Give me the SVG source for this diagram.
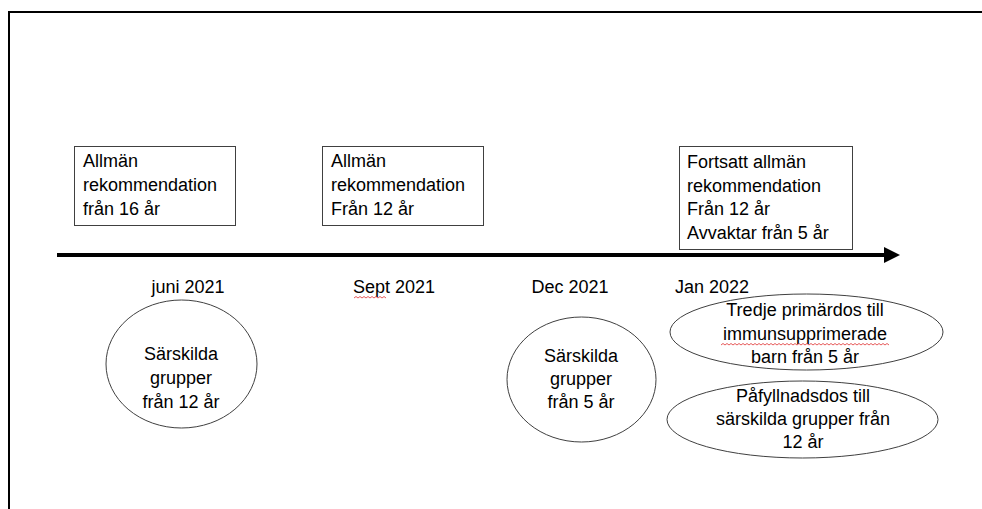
<svg xmlns="http://www.w3.org/2000/svg" width="982" height="509" viewBox="0 0 982 509">
<defs>
<style>
.t{font-family:"Liberation Sans",Arial,sans-serif;font-size:18px;fill:#000}
.c{text-anchor:middle}
.box{fill:#fff;stroke:#404040;stroke-width:1}
.ell{fill:#fff;stroke:#404040;stroke-width:1}
.wave{fill:none;stroke:#e03030;stroke-width:0.8}
</style>
<marker id="ah" markerWidth="4" markerHeight="4" refX="0.5" refY="2" orient="auto" markerUnits="strokeWidth" viewBox="0 0 4 4">
<path d="M0,0 L4,2 L0,4 Z" fill="#000"/>
</marker>
</defs>
<rect width="982" height="509" fill="#fff"/>
<path d="M9,509 V12 H982" fill="none" stroke="#000" stroke-width="2"/>
<g id="connectors">
<line x1="57" y1="255" x2="886" y2="255" stroke="#000" stroke-width="4" marker-end="url(#ah)"/>
</g>
<g id="box1">
<rect class="box" x="74.5" y="146.5" width="161" height="79"/>
<text class="t" x="83" y="167">Allmän</text>
<text class="t" x="83" y="191">rekommendation</text>
<text class="t" x="83" y="215">från 16 år</text>
</g>
<g id="box2">
<rect class="box" x="322.5" y="146.5" width="161" height="79"/>
<text class="t" x="331" y="167">Allmän</text>
<text class="t" x="331" y="191">rekommendation</text>
<text class="t" x="331" y="215">Från 12 år</text>
</g>
<g id="box3">
<rect class="box" x="679.5" y="146.5" width="173" height="103"/>
<text class="t" x="687" y="168">Fortsatt allmän</text>
<text class="t" x="687" y="192">rekommendation</text>
<text class="t" x="687" y="215">Från 12 år</text>
<text class="t" x="687" y="239">Avvaktar från 5 år</text>
</g>
<g id="date-juni">
<text class="t c" x="188" y="293">juni 2021</text>
</g>
<g id="date-sept">
<text class="t c" x="394" y="293">Sept 2021</text>
<path class="wave" d="M354,298 l2,-1.5 l2,1.5 l2,-1.5 l2,1.5 l2,-1.5 l2,1.5 l2,-1.5 l2,1.5 l2,-1.5 l2,1.5 l2,-1.5 l2,1.5 l2,-1.5 l2,1.5 l2,-1.5 l2,1.5"/>
</g>
<g id="date-dec">
<text class="t c" x="570" y="293">Dec 2021</text>
</g>
<g id="date-jan">
<text class="t" x="675" y="293">Jan 2022</text>
</g>
<g id="ellipse1">
<ellipse class="ell" cx="181.5" cy="364" rx="75.5" ry="64"/>
<text class="t c" x="181" y="360">Särskilda</text>
<text class="t c" x="181" y="384">grupper</text>
<text class="t c" x="181" y="408">från 12 år</text>
</g>
<g id="ellipse2">
<ellipse class="ell" cx="581.5" cy="379.5" rx="74.5" ry="62.5"/>
<text class="t c" x="581" y="362">Särskilda</text>
<text class="t c" x="581" y="385">grupper</text>
<text class="t c" x="581" y="408">från 5 år</text>
</g>
<g id="ellipse3">
<ellipse class="ell" cx="806.5" cy="332" rx="136.5" ry="38"/>
<text class="t c" x="805" y="316">Tredje primärdos till</text>
<text class="t c" x="805" y="340">immunsupprimerade</text>
<text class="t c" x="805" y="363">barn från 5 år</text>
<path class="wave" d="M721,345 l2,-1.5 l2,1.5 l2,-1.5 l2,1.5 l2,-1.5 l2,1.5 l2,-1.5 l2,1.5 l2,-1.5 l2,1.5 l2,-1.5 l2,1.5 l2,-1.5 l2,1.5 l2,-1.5 l2,1.5 l2,-1.5 l2,1.5 l2,-1.5 l2,1.5 l2,-1.5 l2,1.5 l2,-1.5 l2,1.5 l2,-1.5 l2,1.5 l2,-1.5 l2,1.5 l2,-1.5 l2,1.5 l2,-1.5 l2,1.5 l2,-1.5 l2,1.5 l2,-1.5 l2,1.5 l2,-1.5 l2,1.5 l2,-1.5 l2,1.5 l2,-1.5 l2,1.5 l2,-1.5 l2,1.5 l2,-1.5 l2,1.5 l2,-1.5 l2,1.5 l2,-1.5 l2,1.5 l2,-1.5 l2,1.5 l2,-1.5 l2,1.5 l2,-1.5 l2,1.5 l2,-1.5 l2,1.5 l2,-1.5 l2,1.5 l2,-1.5 l2,1.5 l2,-1.5 l2,1.5 l2,-1.5 l2,1.5 l2,-1.5 l2,1.5 l2,-1.5 l2,1.5 l2,-1.5 l2,1.5 l2,-1.5 l2,1.5 l2,-1.5 l2,1.5 l2,-1.5 l2,1.5 l2,-1.5 l2,1.5 l2,-1.5 l2,1.5 l2,-1.5 l2,1.5"/>
</g>
<g id="ellipse4">
<ellipse class="ell" cx="802.5" cy="419.5" rx="135.5" ry="38.5"/>
<text class="t c" x="803" y="402">Påfyllnadsdos till</text>
<text class="t c" x="803" y="425">särskilda grupper från</text>
<text class="t c" x="803" y="448">12 år</text>
</g>
</svg>
